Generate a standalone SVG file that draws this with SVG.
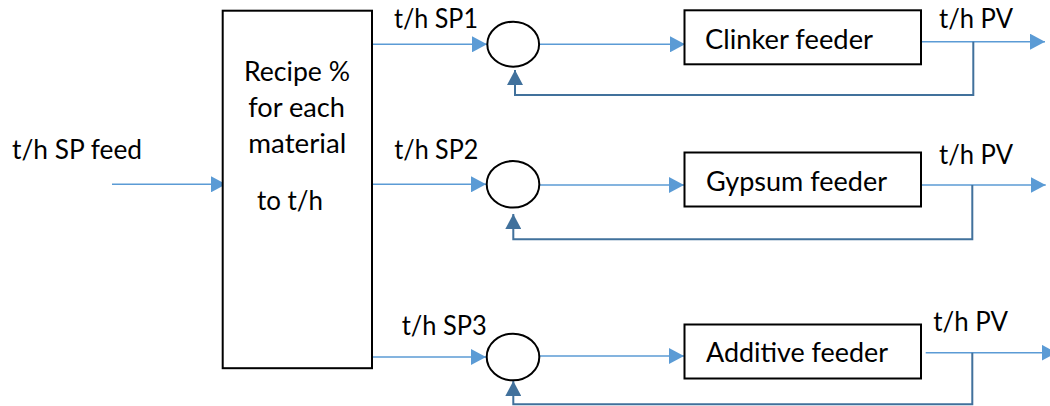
<svg xmlns="http://www.w3.org/2000/svg" width="1050" height="406" viewBox="0 0 1050 406">
  <style>
    text { font-family: Lato, "Liberation Sans", Arial, sans-serif; font-size: 26px; fill: #000; }
    .box { fill: #fff; stroke: #000; stroke-width: 2; }
    .sum { fill: #fff; stroke: #000; stroke-width: 2; }
    .fwd { fill: none; stroke: #5B9BD5; stroke-width: 1.4; marker-end: url(#arrFwd); }
    .fb { fill: none; stroke: #41719C; stroke-width: 2; marker-end: url(#arrFb); }
  </style>
  <defs>
    <marker id="arrFwd" markerUnits="userSpaceOnUse" markerWidth="16" markerHeight="16" refX="15" refY="8" orient="auto">
      <path d="M0,0 L15,8 L0,16 Z" fill="#5B9BD5"/>
    </marker>
    <marker id="arrFb" markerUnits="userSpaceOnUse" markerWidth="16" markerHeight="16" refX="15" refY="8" orient="auto">
      <path d="M0,0 L15,8 L0,16 Z" fill="#41719C"/>
    </marker>
  </defs>

  <rect width="1050" height="406" fill="#fff"/>

  <!-- connectors -->
  <g id="connectors">
    <!-- feed set point into recipe block -->
    <path class="fwd" d="M112,184.3 H226"/>
    <!-- row 1: clinker -->
    <path class="fwd" d="M372,44.3 H487"/>
    <path class="fwd" d="M539,44.3 H685"/>
    <path class="fwd" d="M920,41.7 H1045"/>
    <path class="fb" d="M973.3,41.7 V95 H515 V70"/>
    <!-- row 2: gypsum -->
    <path class="fwd" d="M372,184.3 H486"/>
    <path class="fwd" d="M539.3,185 H684"/>
    <path class="fwd" d="M921,185 H1045.7"/>
    <path class="fb" d="M972.3,185 V239.3 H513.3 V214"/>
    <!-- row 3: additive -->
    <path class="fwd" d="M371,357 H486"/>
    <path class="fwd" d="M539.3,356 H684"/>
    <path class="fwd" d="M925.7,352.7 H1056.7"/>
    <path class="fb" d="M972.3,352.7 V404.3 H513.3 V381"/>
  </g>

  <!-- input label -->
  <g id="feed-label">
    <text x="12" y="159" textLength="130" lengthAdjust="spacingAndGlyphs">t/h SP feed</text>
  </g>

  <!-- recipe block -->
  <g id="recipe">
    <rect class="box" x="222.7" y="10.7" width="149.3" height="357.5"/>
    <text x="244" y="81" textLength="106" lengthAdjust="spacingAndGlyphs">Recipe %</text>
    <text x="248.3" y="116.7" textLength="96.7" lengthAdjust="spacingAndGlyphs">for each</text>
    <text x="248.3" y="152.7" textLength="98" lengthAdjust="spacingAndGlyphs">material</text>
    <text x="257" y="210" textLength="66" lengthAdjust="spacingAndGlyphs">to t/h</text>
  </g>

  <!-- set point labels -->
  <g id="sp-labels">
    <text x="394" y="27.7" textLength="84" lengthAdjust="spacingAndGlyphs">t/h SP1</text>
    <text x="394.3" y="159.3" textLength="84" lengthAdjust="spacingAndGlyphs">t/h SP2</text>
    <text x="401.7" y="335.3" textLength="85" lengthAdjust="spacingAndGlyphs">t/h SP3</text>
  </g>

  <!-- summing junctions -->
  <g id="sum1"><ellipse class="sum" cx="513.2" cy="44.2" rx="25.9" ry="22.5"/></g>
  <g id="sum2"><ellipse class="sum" cx="513" cy="184.3" rx="26.3" ry="23.3"/></g>
  <g id="sum3"><ellipse class="sum" cx="513" cy="357" rx="26.3" ry="23.3"/></g>

  <!-- feeders -->
  <g id="clinker-feeder">
    <rect class="box" x="684.5" y="10.3" width="236.5" height="54"/>
    <text x="705" y="49" textLength="168" lengthAdjust="spacingAndGlyphs">Clinker feeder</text>
  </g>
  <g id="gypsum-feeder">
    <rect class="box" x="684.5" y="152.5" width="236.5" height="54"/>
    <text x="706" y="190.7" textLength="181" lengthAdjust="spacingAndGlyphs">Gypsum feeder</text>
  </g>
  <g id="additive-feeder">
    <rect class="box" x="684.5" y="324.5" width="236.5" height="54"/>
    <text x="706" y="361.7" textLength="182" lengthAdjust="spacingAndGlyphs">Additive feeder</text>
  </g>

  <!-- process value labels -->
  <g id="pv-labels">
    <text x="939" y="28.3" textLength="74" lengthAdjust="spacingAndGlyphs">t/h PV</text>
    <text x="939" y="164.3" textLength="74" lengthAdjust="spacingAndGlyphs">t/h PV</text>
    <text x="933.3" y="331" textLength="74.7" lengthAdjust="spacingAndGlyphs">t/h PV</text>
  </g>
</svg>
